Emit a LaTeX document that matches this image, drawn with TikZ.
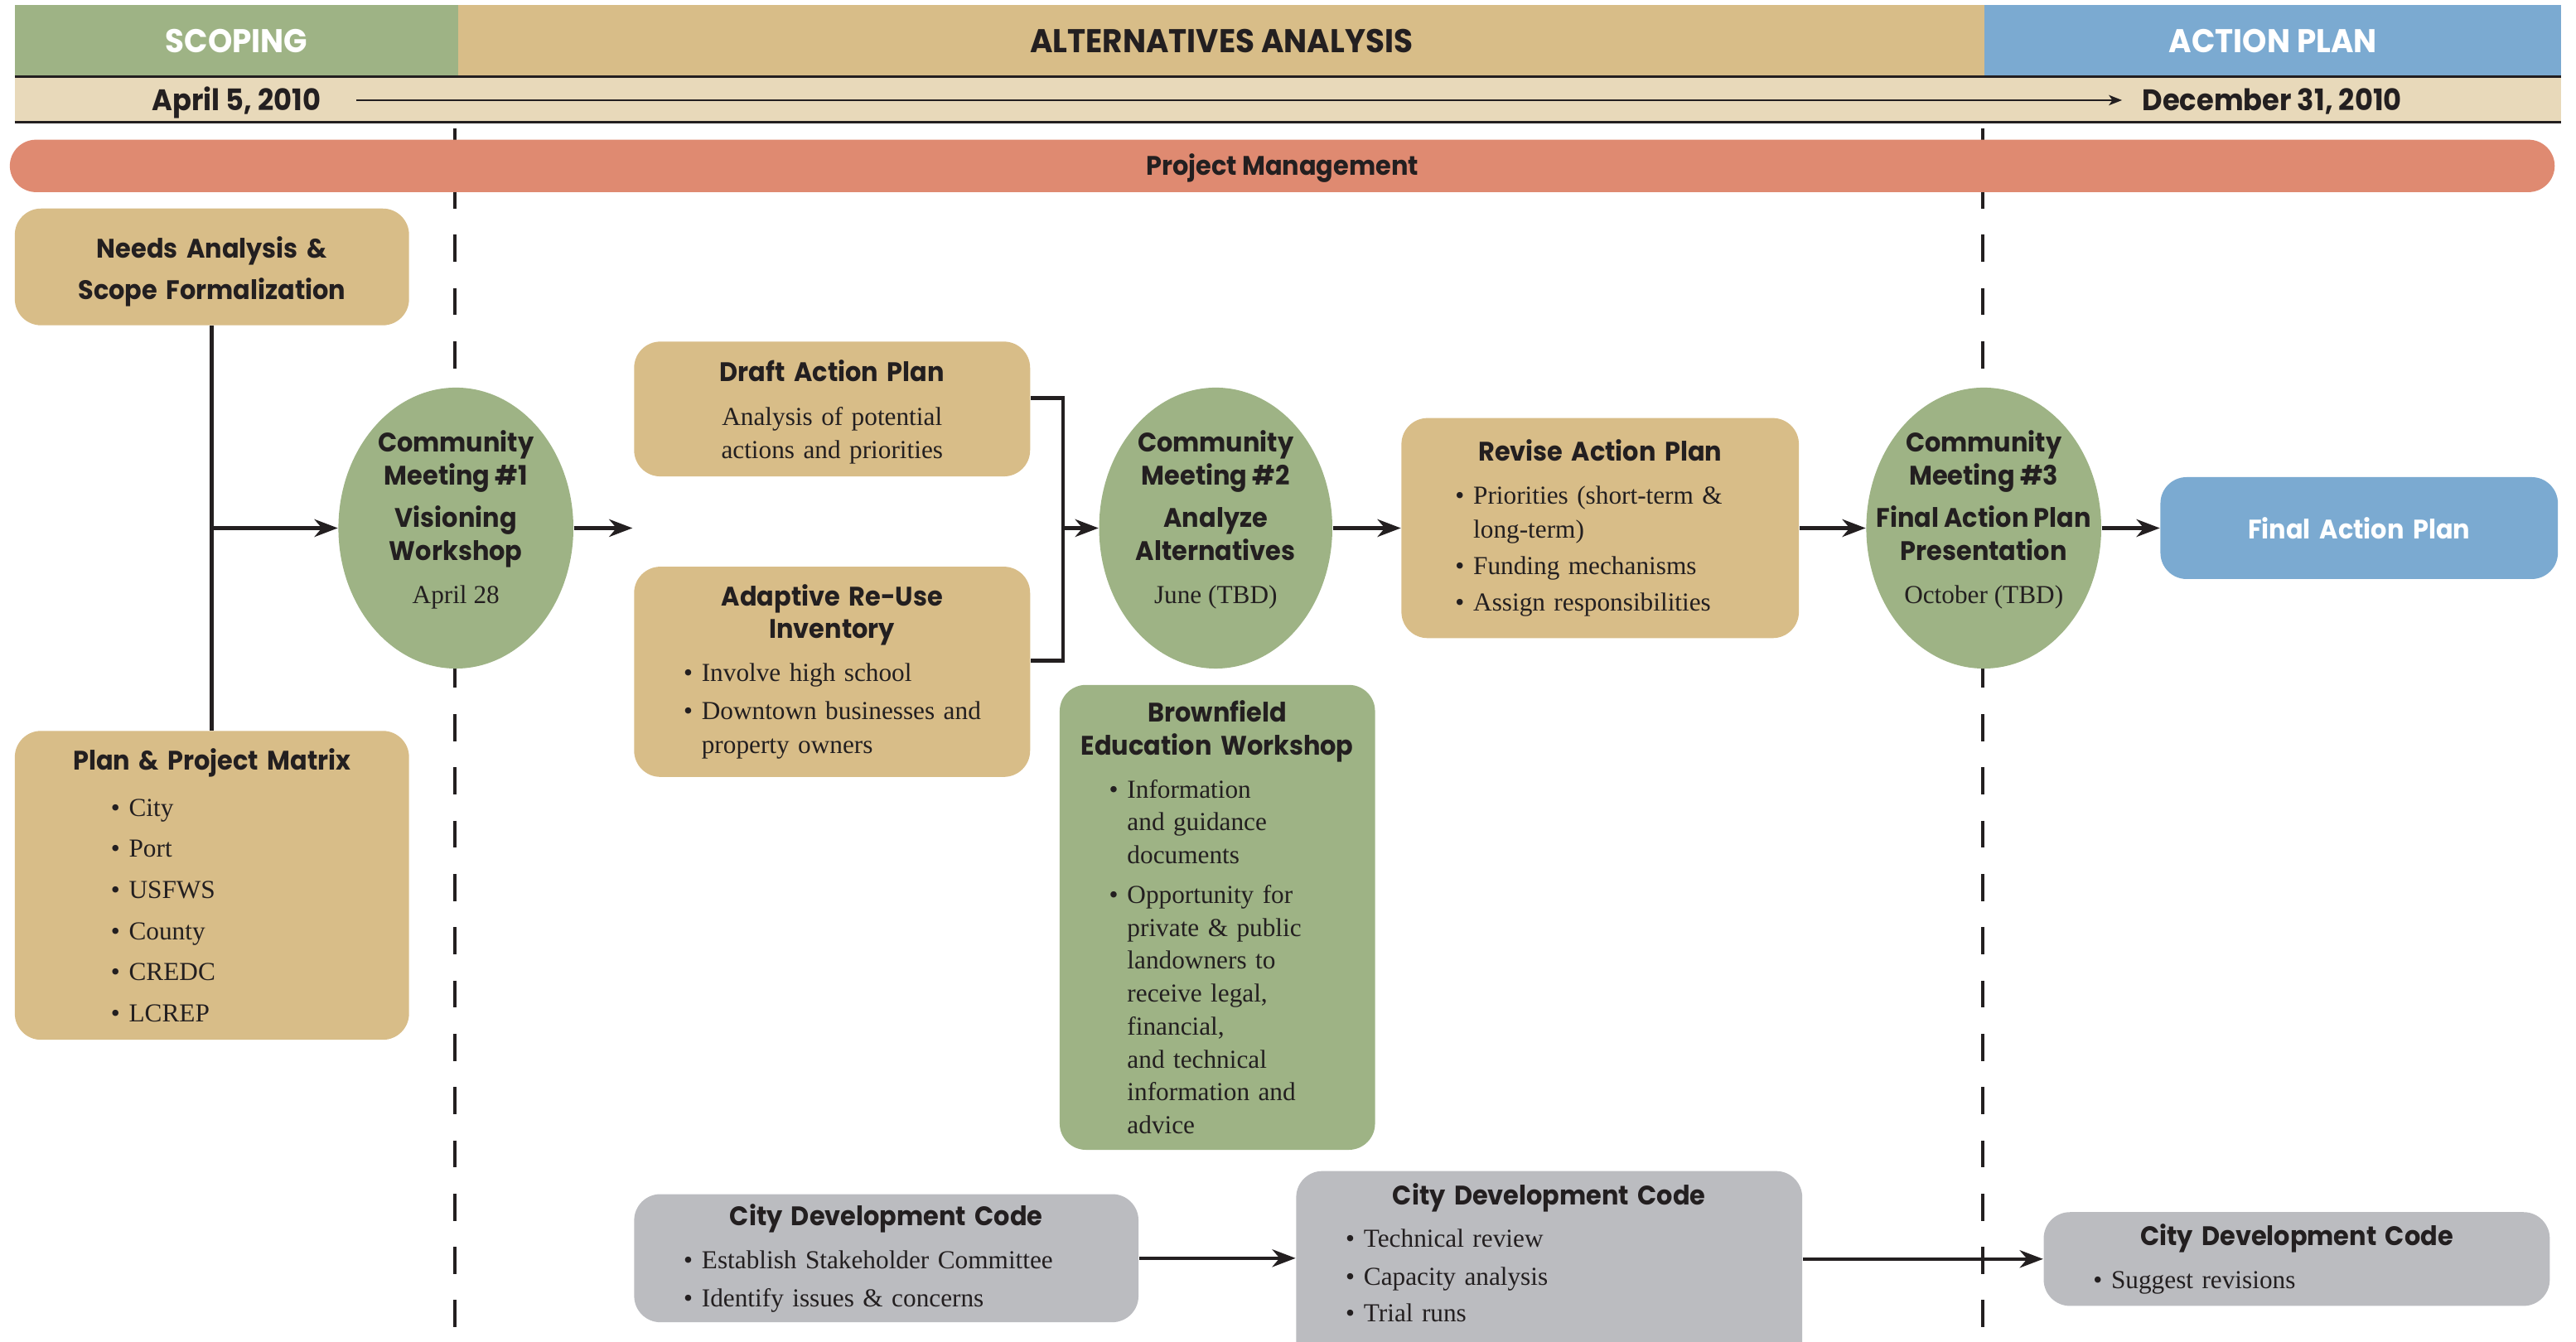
\documentclass[tikz,border=0pt]{standalone}
\usepackage{fontspec}
\setmainfont{Liberation Serif}
\newfontfamily\headfont[FakeStretch=0.94]{Poppins}
\usetikzlibrary{arrows.meta,shapes.geometric,positioning}

\definecolor{sage}{HTML}{9EB385}
\definecolor{wheat}{HTML}{D8BD88}
\definecolor{sand}{HTML}{E8D9BA}
\definecolor{sky}{HTML}{7BAAD1}
\definecolor{salmon}{HTML}{DF8A71}
\definecolor{stone}{HTML}{BBBCC0}
\definecolor{ink}{HTML}{231F20}

\newlength{\bulx}\setlength{\bulx}{17pt}
\newcommand{\headtext}{\headfont\bfseries\fontsize{9.2}{11.3}\selectfont}
\newcommand{\bodytext}{\fontsize{8.9}{11.3}\selectfont}
\newcommand{\ttl}[1]{\makebox[\linewidth]{\headtext #1}}
\newcommand{\itm}[1]{\hspace*{\bulx}\makebox[6.2pt][l]{\textbullet}#1}
\newcommand{\more}[1]{\hspace*{\bulx}\hspace*{6.2pt}#1}
\newcommand{\meet}[1]{\makebox[0pt]{\begin{tabular}{@{}c@{}}#1\end{tabular}}}
\newcommand{\when}[1]{{\normalfont\bodytext #1}}

\begin{document}
\begin{tikzpicture}[x=0.1983mm, y=-0.1983mm,
    panel/.style={rounded corners=9pt, inner sep=0pt, align=left, font=\bodytext, text=ink},
    meeting/.style={ellipse, fill=sage, inner sep=0pt, minimum width=80.7pt, minimum height=96.5pt, font=\headtext, text=ink},
    phase/.style={inner sep=0pt, minimum height=24.5pt, font=\headfont\bfseries\fontsize{11.3}{13}\selectfont},
    datetext/.style={inner sep=0pt, text height=7.1pt, text depth=0pt, text=ink, font=\headfont\bfseries\fontsize{10.2}{12}\selectfont},
    arrow/.style={-{Stealth[length=8pt,width=6pt,inset=2.5pt]}, line width=1.3pt, ink},
    link/.style={line width=1.3pt, ink},
    divider/.style={line width=1.2pt, ink, dash pattern=on 9.3pt off 9pt},
    rule/.style={line width=0.9pt, ink}
]
\useasboundingbox (0,0) rectangle (1568,817);

% phases across the top
\node[phase, fill=sage, minimum width=152.3pt, text=white] (scoping) at (144,24.75) {SCOPING};
\node[phase, fill=wheat, minimum width=524.1pt, text=ink] (alternatives) at (743.5,24.75) {ALTERNATIVES ANALYSIS};
\node[phase, fill=sky, minimum width=198pt, text=white] (actionplan) at (1383.5,24.75) {ACTION PLAN};
\fill[sand] (9,46.5) rectangle (1559,74.5);
\draw[rule] (9,46.5) -- (1559,46.5);
\draw[rule] (9,74.5) -- (1559,74.5);
\node[datetext] (start) at (144,61) {April 5, 2010};
\node[datetext] (finish) at (1383,61) {December 31, 2010};
\draw[-{Stealth[length=4.5pt,width=3.5pt,inset=1.2pt]}, line width=0.8pt, ink, shorten <=12pt, shorten >=6.8pt] (start) -- (finish);

% phase boundaries
\draw[divider] (277,78) -- (277,817);
\draw[divider] (1207,78) -- (1207,817);

\node[fill=salmon, rounded corners=9pt, minimum width=874pt, minimum height=18pt, inner sep=0pt, text height=6.4pt, text depth=0pt, text=ink, font=\headfont\bfseries\fontsize{9.2}{11}\selectfont] (pm) at (780.5,101) {Project Management};

% scoping
\node[panel, fill=wheat, text width=135.4pt, minimum height=40.1pt] (needs) at (129,162.5)
  {\rule{0pt}{10.5pt}\ttl{Needs Analysis \&}\\[2.8pt]\ttl{Scope Formalization}};
\node[panel, fill=wheat, text width=135.4pt, minimum height=106.1pt, execute at begin node={\setlength{\bulx}{33pt}}] (plan) at (129,539)
  {\ttl{Plan \& Project Matrix}\\[4.5pt]
   \itm{City}\\[2.8pt]\itm{Port}\\[2.8pt]\itm{USFWS}\\[2.8pt]\itm{County}\\[2.8pt]\itm{CREDC}\\[2.8pt]\itm{LCREP}};
\node[meeting] (m1) at (277.5,321.5)
  {\meet{Community\\Meeting \#1\\[3.4pt]Visioning\\Workshop\\[3.4pt]\when{April 28}\\[4.9pt]}};

% alternatives analysis
\node[panel, fill=wheat, text width=136pt, minimum height=46.3pt, align=center] (draft) at (506.5,249)
  {\rule{0pt}{9.5pt}\ttl{Draft Action Plan}\\[3.9pt]Analysis of potential\\actions and priorities};
\node[panel, fill=wheat, text width=136pt, minimum height=72.2pt] (reuse) at (506.5,409)
  {\ttl{Adaptive Re-Use}\\\ttl{Inventory}\\[3.4pt]
   \itm{Involve high school}\\[1.7pt]\itm{Downtown businesses and}\\[0.6pt]\more{property owners}};
\node[meeting, minimum width=80.1pt] (m2) at (740,321.5)
  {\meet{Community\\Meeting \#2\\[3.4pt]Analyze\\Alternatives\\[3.4pt]\when{June (TBD)}\\[4.9pt]}};
\node[panel, fill=sage, text width=108.3pt, minimum height=159.7pt] (brownfield) at (741,558.5)
  {\ttl{Brownfield}\\\ttl{Education Workshop}\\[3.4pt]
   \itm{Information}\\\more{and guidance}\\\more{documents}\\[2.3pt]
   \itm{Opportunity for}\\\more{private \& public}\\\more{landowners to}\\\more{receive legal,}\\\more{financial,}\\\more{and technical}\\\more{information and}\\\more{advice}};
\node[panel, fill=wheat, text width=136.5pt, minimum height=75.6pt, execute at begin node={\setlength{\bulx}{18.5pt}}] (revise) at (974,321.5)
  {\ttl{Revise Action Plan}\\[3.4pt]
   \itm{Priorities (short-term \&}\\[0.6pt]\more{long-term)}\\[1.2pt]\itm{Funding mechanisms}\\[1.2pt]\itm{Assign responsibilities}};
\node[meeting] (m3) at (1207.5,321.5)
  {\meet{Community\\Meeting \#3\\[3.4pt]Final Action Plan\\Presentation\\[3.4pt]\when{October (TBD)}\\[4.9pt]}};

% action plan
\node[panel, fill=sky, text width=136.5pt, minimum height=35pt, align=center, text=white, font=\headtext] (final) at (1436,321.5) {Final Action Plan};

% development code track
\node[panel, fill=stone, text width=173.2pt, minimum height=44pt] (cdc1) at (539.5,766)
  {\ttl{City Development Code}\\[3.4pt]
   \itm{Establish Stakeholder Committee}\\[1.7pt]\itm{Identify issues \& concerns}};
\node[panel, fill=stone, text width=173.8pt, minimum height=71.7pt] (cdc2) at (943,776.5)
  {\ttl{City Development Code}\\[3.4pt]
   \itm{Technical review}\\[1.7pt]\itm{Capacity analysis}\\[1.2pt]\itm{Trial runs}\\[4.5pt]\mbox{}};
\node[panel, fill=stone, text width=173.8pt, minimum height=32.2pt] (cdc3) at (1398,766.5)
  {\ttl{City Development Code}\\[3.4pt]\itm{Suggest revisions}};

% connectors
\coordinate (fork) at (385,321.5);
\coordinate (join) at (647,321.5);
\draw[link] (needs) -- (plan);
\draw[arrow] (needs.south |- m1.west) -- (m1);
\draw[arrow] (m1) -- (fork);
\draw[link] ([yshift=3.7pt]draft.east) -| (join) |- ([yshift=3.9pt]reuse.east);
\draw[arrow] (join) -- (m2);
\draw[arrow] (m2) -- (revise);
\draw[arrow] (revise) -- (m3);
\draw[arrow] (m3) -- (final);
\draw[arrow] (cdc1.east) -- (cdc1.east -| cdc2.west);
\draw[arrow] (cdc3.west -| cdc2.east) -- (cdc3.west);
\end{tikzpicture}
\end{document}
